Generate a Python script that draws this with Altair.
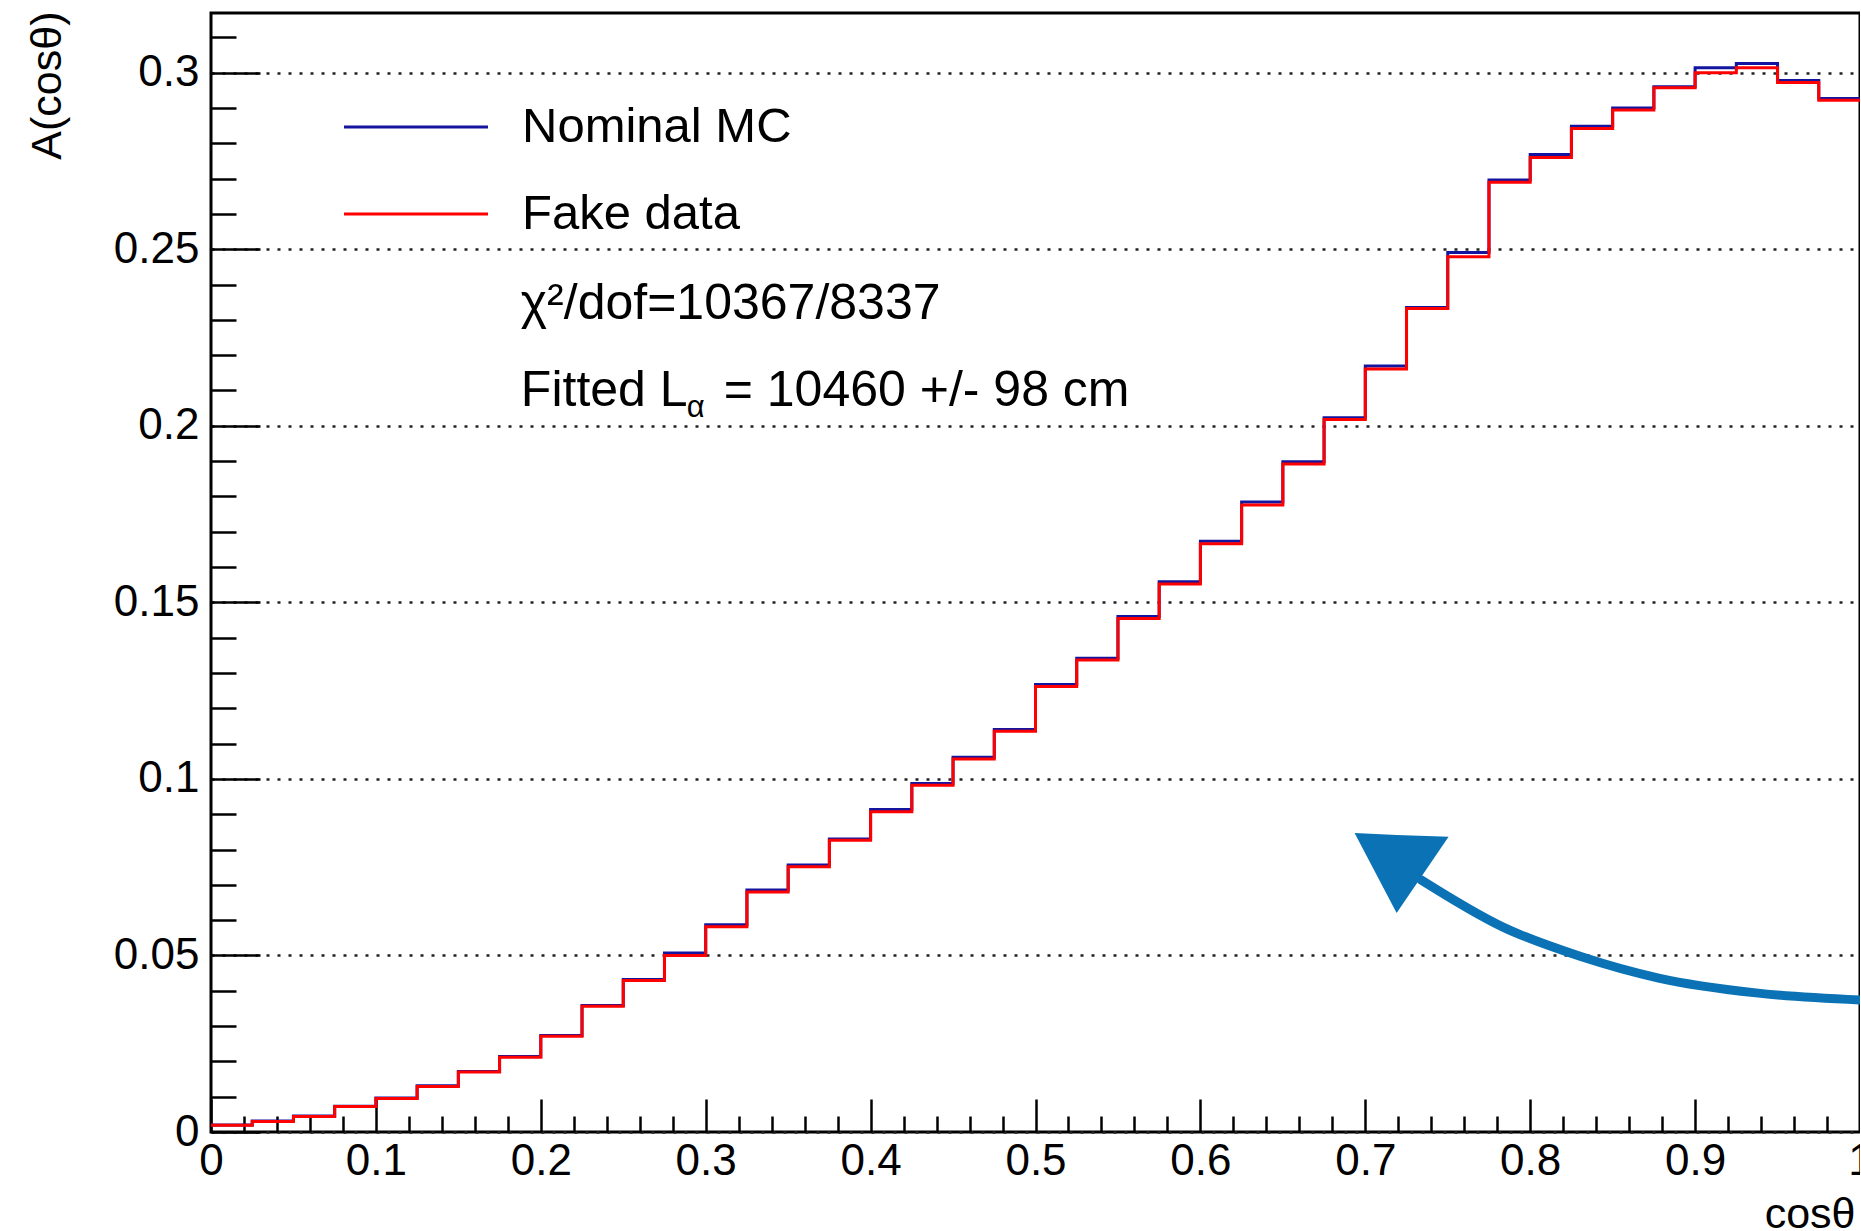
import altair as alt
import pandas as pd

# ---------------- data ----------------
series_names = ["Nominal MC", "Fake data"]
series_colors = ["#1414a0", "#ff0000"]

bin_width = 0.025  # 40 bins on [0, 1]

nominal_mc = [0.0020, 0.0031, 0.0045, 0.0073, 0.0096, 0.0131, 0.0171, 0.0214, 0.0273, 0.0358,
              0.0432, 0.0507, 0.0587, 0.0685, 0.0756, 0.0830, 0.0913, 0.0987, 0.1061, 0.1140,
              0.1267, 0.1342, 0.1460, 0.1558, 0.1673, 0.1784, 0.1898, 0.2023, 0.2169, 0.2335,
              0.2491, 0.2696, 0.2768, 0.2848, 0.2900, 0.2960, 0.3014, 0.3026, 0.2978, 0.2927]
fake_data = [0.0019, 0.0030, 0.0044, 0.0072, 0.0095, 0.0129, 0.0170, 0.0212, 0.0271, 0.0356,
             0.0429, 0.0500, 0.0581, 0.0680, 0.0751, 0.0826, 0.0907, 0.0982, 0.1056, 0.1135,
             0.1262, 0.1337, 0.1454, 0.1552, 0.1666, 0.1776, 0.1892, 0.2018, 0.2161, 0.2332,
             0.2479, 0.2690, 0.2760, 0.2842, 0.2894, 0.2957, 0.3000, 0.3014, 0.2972, 0.2922]

x_major_ticks = [0, 0.1, 0.2, 0.3, 0.4, 0.5, 0.6, 0.7, 0.8, 0.9, 1.0]
x_minor_ticks = [round(i * 0.02, 2) for i in range(51) if i % 5]
y_major_ticks = [0, 0.05, 0.1, 0.15, 0.2, 0.25, 0.3]
y_minor_ticks = [round(i * 0.01, 2) for i in range(32) if i % 5]

x_domain = [0, 1]
y_domain = [0, 0.3169]

# annotation texts (anchors in data units)
annot_main = [
    {"text": "χ²/dof=10367/8337", "x": 0.1879, "y": 0.2302},
    {"text": "Fitted L", "x": 0.1879, "y": 0.2056},
    {"text": "= 10460 +/- 98 cm", "x": 0.3109, "y": 0.2056},
]
annot_sub = [{"text": "α", "x": 0.2885, "y": 0.2025}]

# hand-drawn arrow annotation (data units)
arrow_shaft_x = [0.7338, 0.7832, 0.8307, 0.8779, 0.9369, 1.0]
arrow_shaft_y = [0.0714, 0.0581, 0.0497, 0.0436, 0.0394, 0.0374]
arrow_head_x = [0.6935, 0.7190, 0.7505]
arrow_head_top = [0.0847, 0.0841, 0.0836]
arrow_head_bottom = [0.0847, 0.0620, 0.0836]
arrow_color = "#0a72b5"

# ---------------- tables ----------------
def hist_table(values, name):
    rows = [{"x": i * bin_width, "y": v, "series": name} for i, v in enumerate(values)]
    rows.append({"x": len(values) * bin_width, "y": values[-1], "series": name})
    return pd.DataFrame(rows)

df_mc = hist_table(nominal_mc, series_names[0])
df_fake = hist_table(fake_data, series_names[1])
df_shaft = pd.DataFrame({"x": arrow_shaft_x, "y": arrow_shaft_y})
df_head = pd.DataFrame({"x": arrow_head_x, "y": arrow_head_top, "y2": arrow_head_bottom})
df_annot = pd.DataFrame(annot_main)
df_sub = pd.DataFrame(annot_sub)

FONT = "Liberation Sans"
xs = alt.Scale(domain=x_domain, nice=False, zero=False)
ys = alt.Scale(domain=y_domain, nice=False, zero=False)

# long horizontal legend line: a wide path inside a small symbol box
legend = alt.Legend(
    orient="none", legendX=179.5, legendY=88.5, title=None,
    symbolType="M-3,0H3", symbolSize=2304, symbolStrokeWidth=3,
    labelFont=FONT, labelFontSize=49, labelColor="black", labelOffset=80.5,
    rowPadding=36, padding=0, labelLimit=0, symbolOffset=0,
)
color = alt.Color("series:N", scale=alt.Scale(domain=series_names, range=series_colors), legend=legend)

x_main_axis = alt.Axis(
    orient="bottom", values=x_major_ticks, format="~g", offset=-33, tickSize=33,
    tickWidth=2.5, tickColor="black", domain=False, grid=False,
    labelFont=FONT, labelFontSize=44, labelColor="black", labelPadding=7,
    labelFlush=False, labelOverlap=False,
    title="cosθ", titleFont=FONT, titleFontSize=43, titleFontWeight="normal",
    titleColor="black", titleAlign="right", titleBaseline="alphabetic",
    titleX=1644, titleY=128, titleAngle=0,
)
y_main_axis = alt.Axis(
    orient="left", values=y_major_ticks, format="~g", offset=-49, tickSize=49,
    tickWidth=2.5, tickColor="black", domain=False,
    grid=True, gridDash=[3, 8], gridColor="#222222", gridWidth=2.5,
    labelFont=FONT, labelFontSize=44, labelColor="black", labelPadding=12,
    labelFlush=False, labelOverlap=False,
    title="A(cosθ)", titleFont=FONT, titleFontSize=43, titleFontWeight="normal",
    titleColor="black", titleAngle=270, titleAlign="right", titleBaseline="middle",
    titleX=-213, titleY=-2,
)
x_minor_axis = alt.Axis(
    orient="bottom", values=x_minor_ticks, offset=-16, tickSize=16, tickWidth=2.5,
    tickColor="black", domain=False, grid=False, labels=False, title=None,
)
y_minor_axis = alt.Axis(
    orient="left", values=y_minor_ticks, offset=-25, tickSize=25, tickWidth=2.5,
    tickColor="black", domain=False, grid=False, labels=False, title=None,
)

mc_layer = alt.Chart(df_mc).mark_line(interpolate="step-after", strokeWidth=3).encode(
    x=alt.X("x:Q", scale=xs, axis=x_main_axis),
    y=alt.Y("y:Q", scale=ys, axis=y_main_axis),
    color=color,
)
fake_layer = alt.Chart(df_fake).mark_line(interpolate="step-after", strokeWidth=3).encode(
    x=alt.X("x:Q", scale=xs, axis=x_minor_axis),
    y=alt.Y("y:Q", scale=ys, axis=y_minor_axis),
    color=color,
)

text_layer = alt.Chart(df_annot).mark_text(
    font=FONT, fontSize=50, align="left", baseline="alphabetic", color="black"
).encode(
    x=alt.X("x:Q", scale=xs, axis=None),
    y=alt.Y("y:Q", scale=ys, axis=None),
    text="text:N",
)
sub_layer = alt.Chart(df_sub).mark_text(
    font=FONT, fontSize=31, align="left", baseline="alphabetic", color="black"
).encode(
    x=alt.X("x:Q", scale=xs, axis=None),
    y=alt.Y("y:Q", scale=ys, axis=None),
    text="text:N",
)

shaft_layer = alt.Chart(df_shaft).mark_line(
    interpolate="monotone", strokeWidth=9, color=arrow_color, strokeCap="round"
).encode(
    x=alt.X("x:Q", scale=xs, axis=None),
    y=alt.Y("y:Q", scale=ys, axis=None),
)
head_layer = alt.Chart(df_head).mark_area(color=arrow_color, opacity=1).encode(
    x=alt.X("x:Q", scale=xs, axis=None),
    y=alt.Y("y:Q", scale=ys, axis=None),
    y2="y2:Q",
)

chart = alt.layer(
    mc_layer, fake_layer, text_layer, sub_layer, shaft_layer, head_layer
).resolve_axis(
    x="independent", y="independent"
).properties(
    width=1649, height=1119,
    autosize=alt.AutoSizeParams(type="none"),
    padding={"left": 211, "top": 13, "right": 0, "bottom": 99},
    background="white",
).configure_view(
    stroke="black", strokeWidth=3
)

chart.save("out.html", embed_options={"renderer": "svg", "actions": False})
